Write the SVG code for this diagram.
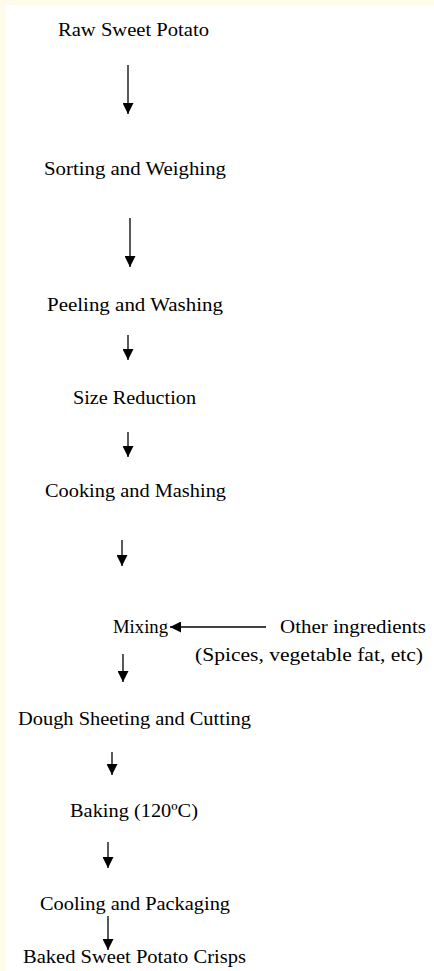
<svg xmlns="http://www.w3.org/2000/svg" width="434" height="971" viewBox="0 0 434 971">
<style>
.t{font-family:"Liberation Serif","DejaVu Serif",serif;font-size:19px;fill:#000}
.c line{stroke:#000;stroke-width:1.3;fill:none}
</style>
<defs>
<marker id="ah" viewBox="0 0 10 10" refX="10" refY="5" markerWidth="12" markerHeight="11" markerUnits="userSpaceOnUse" orient="auto">
<path d="M0,0 L10,5 L0,10 z" fill="#000"/>
</marker>
</defs>
<rect x="0" y="0" width="434" height="971" fill="#fffbea"/>
<rect x="5" y="5" width="429" height="966" fill="#fff"/>
<g id="n1"><text class="t" x="58" y="36" textLength="151" lengthAdjust="spacingAndGlyphs">Raw Sweet Potato</text></g>
<g id="n2"><text class="t" x="44" y="175" textLength="182" lengthAdjust="spacingAndGlyphs">Sorting and Weighing</text></g>
<g id="n3"><text class="t" x="47" y="311" textLength="176" lengthAdjust="spacingAndGlyphs">Peeling and Washing</text></g>
<g id="n4"><text class="t" x="73" y="404" textLength="123" lengthAdjust="spacingAndGlyphs">Size Reduction</text></g>
<g id="n5"><text class="t" x="45" y="497" textLength="181" lengthAdjust="spacingAndGlyphs">Cooking and Mashing</text></g>
<g id="n6"><text class="t" x="113" y="633" textLength="55" lengthAdjust="spacingAndGlyphs">Mixing</text></g>
<g id="n7"><text class="t" x="280" y="633" textLength="146" lengthAdjust="spacingAndGlyphs">Other ingredients</text></g>
<g id="n8"><text class="t" x="195" y="661" textLength="228" lengthAdjust="spacingAndGlyphs">(Spices, vegetable fat, etc)</text></g>
<g id="n9"><text class="t" x="18" y="725" textLength="233" lengthAdjust="spacingAndGlyphs">Dough Sheeting and Cutting</text></g>
<g id="n10"><text class="t" x="70" y="817" textLength="128" lengthAdjust="spacingAndGlyphs">Baking (120ºC)</text></g>
<g id="n11"><text class="t" x="40" y="910" textLength="190" lengthAdjust="spacingAndGlyphs">Cooling and Packaging</text></g>
<g id="n12"><text class="t" x="23" y="963" textLength="223" lengthAdjust="spacingAndGlyphs">Baked Sweet Potato Crisps</text></g>
<g id="connectors" class="c">
<line x1="128" y1="65" x2="128" y2="114" marker-end="url(#ah)"/>
<line x1="130" y1="218" x2="130" y2="267" marker-end="url(#ah)"/>
<line x1="128" y1="335" x2="128" y2="360" marker-end="url(#ah)"/>
<line x1="128" y1="432" x2="128" y2="457" marker-end="url(#ah)"/>
<line x1="122" y1="540" x2="122" y2="566" marker-end="url(#ah)"/>
<line x1="266" y1="627" x2="170" y2="627" marker-end="url(#ah)"/>
<line x1="123" y1="654" x2="123" y2="682" marker-end="url(#ah)"/>
<line x1="112" y1="752" x2="112" y2="775" marker-end="url(#ah)"/>
<line x1="108" y1="842" x2="108" y2="868" marker-end="url(#ah)"/>
<line x1="108" y1="916" x2="108" y2="950" marker-end="url(#ah)"/>
</g>
</svg>
